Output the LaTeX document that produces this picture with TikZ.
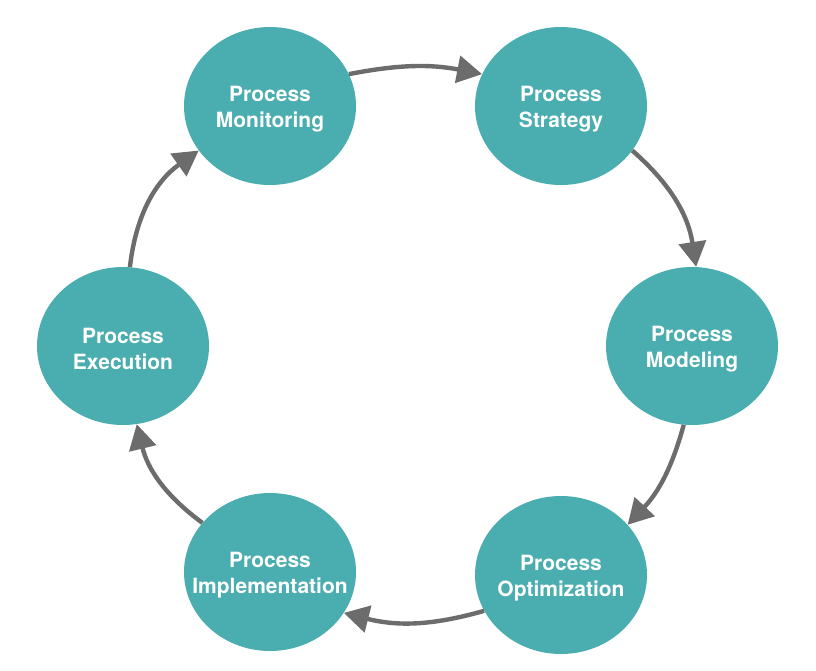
\documentclass[tikz,border=0pt]{standalone}
\usepackage{fontspec}
\setmainfont{TeX Gyre Heros}
\usetikzlibrary{shapes.geometric,arrows.meta}
\definecolor{tealfill}{RGB}{74,173,175}
\definecolor{arrowgray}{RGB}{108,108,108}
\begin{document}
\begin{tikzpicture}[x=1pt,y=-1pt,
  stage/.style={ellipse,fill=tealfill,draw=none,minimum width=172pt,minimum height=158pt,
    inner sep=0pt,
    label={[text=white,align=center,yshift=-3pt,font=\bfseries\fontsize{21}{26}\selectfont]center:#1}},
  flow/.style={draw=arrowgray,line width=4.4pt,-{Triangle[length=25pt,width=27pt]}}]
\useasboundingbox (0,0) rectangle (816,670);
\fill[white] (0,0) rectangle (816,670);
\node[stage={Process\\Monitoring}] (mon) at (270,106) {};
\node[stage={Process\\Strategy}] (str) at (561,106) {};
\node[stage={Process\\Modeling}] (mod) at (692,346) {};
\node[stage={Process\\Optimization}] (opt) at (561,575) {};
\node[stage={Process\\Implementation}] (imp) at (270,572) {};
\node[stage={Process\\Execution}] (exe) at (123,346) {};
\draw[flow] (mon.22) to[bend left=11] (str.158);
\draw[flow] (str.-32) to[bend left=20] (mod.87);
\draw[flow] (mod.-96) to[bend left=14] (opt.37);
\draw[flow] (opt.205) to[bend left=15] (imp.-29);
\draw[flow] (imp.144) to[bend left=20] (exe.-80);
\draw[flow] (exe.85) to[bend left=24] (mon.212);
\end{tikzpicture}
\end{document}
